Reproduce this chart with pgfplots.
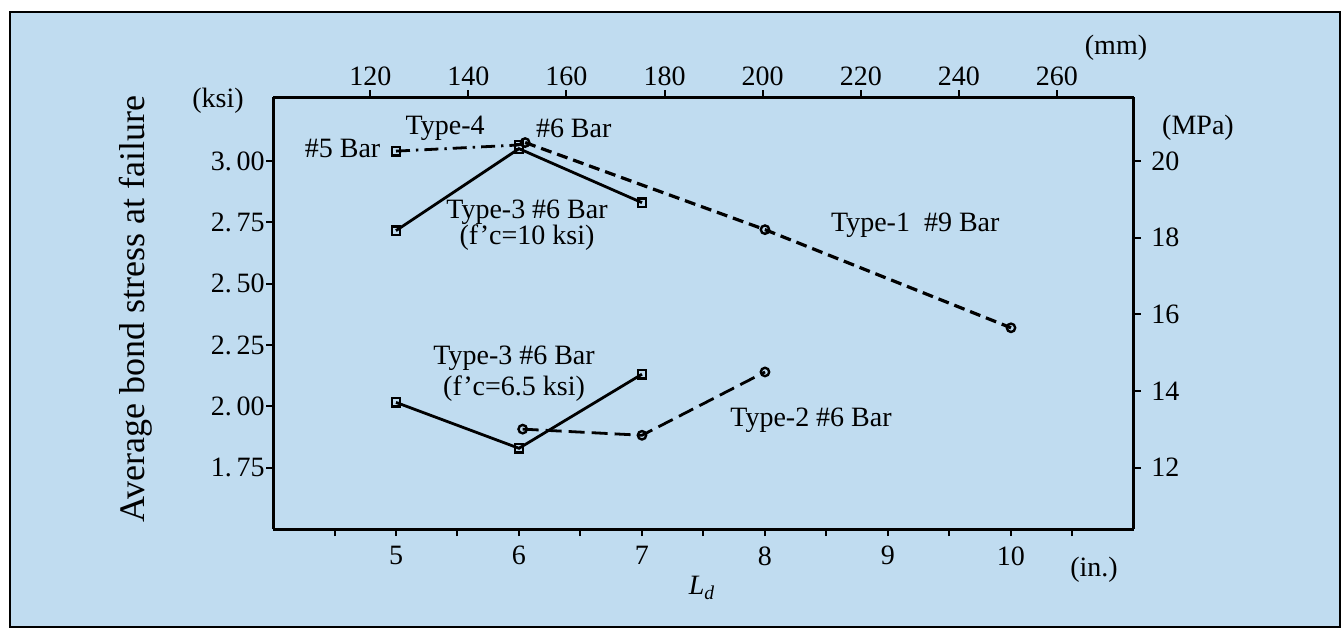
\documentclass[border=0pt]{standalone}
\usepackage{fontspec}
\setmainfont{Liberation Serif}
\usepackage{pgfplots}
\pgfplotsset{compat=1.18}
\definecolor{bg}{RGB}{192,220,240}
\pgfplotsset{myax/.style={
  scale only axis, width=430.5pt, height=216pt,
  at={(136.5pt,50pt)}, anchor=south west,
  xmin=4, xmax=11, ymin=1.5, ymax=3.2606,
  axis line style={line width=1.5pt},
  tick style={black, line width=1pt},
  tick align=outside, major tick length=3.5pt,
  clip=false,
  font=\fontsize{14}{16}\selectfont,
  ticklabel style={font=\fontsize{14}{16}\selectfont},
}}
\begin{document}
\begin{tikzpicture}
\useasboundingbox (0,0) rectangle (670.5pt,314.5pt);
\fill[white] (0,0) rectangle (670.5pt,314.5pt);
\filldraw[fill=bg, draw=black, line width=1.2pt] (5pt,1pt) rectangle (670pt,308.5pt);

% top (mm) axis
\begin{axis}[myax,
  axis x line*=top, axis y line=none,
  xtick={4.791,5.589,6.386,7.184,7.981,8.779,9.577,10.374},
  xticklabels={120,140,160,180,200,220,240,260},
  xticklabel style={inner sep=1pt, yshift=1pt},
]
\addplot[draw=none] coordinates {(5,2)};
\end{axis}

% right (MPa) axis
\begin{axis}[myax,
  axis y line*=right, axis x line=none,
  ytick={1.75,2.0625,2.375,2.6875,3},
  yticklabels={12,14,16,18,20},
  yticklabel style={inner sep=1pt, xshift=4pt},
]
\addplot[draw=none] coordinates {(5,2)};
\end{axis}

% main axis
\begin{axis}[myax,
  axis x line*=bottom, axis y line*=left,
  xtick={4.5,5,5.5,6,6.5,7,7.5,8,8.5,9,9.5,10,10.5},
  xticklabels={,5,,6,,7,,8,,9,,10,},
  xticklabel style={inner sep=1pt, yshift=-4pt},
  ytick={1.75,2,2.25,2.5,2.75,3},
  yticklabels={1.\,75,2.\,00,2.\,25,2.\,50,2.\,75,3.\,00},
  yticklabel style={inner sep=0.5pt},
]
% Type-1 #9 Bar
\addplot[black, line width=1.6pt, dash pattern=on 5.5pt off 3pt,
  mark=o, mark size=2.1pt, mark options={solid, fill=bg, line width=1.2pt}]
  coordinates {(6.05,3.075) (8,2.72) (10,2.32)};
% Type-2 #6 Bar
\addplot[black, line width=1.4pt, dash pattern=on 8pt off 3.5pt,
  mark=o, mark size=2.1pt, mark options={solid, fill=bg, line width=1.2pt}]
  coordinates {(6.03,1.907) (7,1.882) (8,2.14)};
% Type-4
\addplot[black, line width=1.4pt, dash pattern=on 7pt off 3pt on 1.2pt off 3pt,
  mark=square, mark size=2.1pt, mark options={solid, fill=bg, line width=1.2pt}]
  coordinates {(5,3.04) (6,3.065)};
% Type-3 f'c=10 ksi
\addplot[black, line width=1.4pt,
  mark=square, mark size=2.1pt, mark options={solid, fill=bg, line width=1.2pt}]
  coordinates {(5,2.716) (6,3.05) (7,2.83)};
% Type-3 f'c=6.5 ksi
\addplot[black, line width=1.4pt,
  mark=square, mark size=2.1pt, mark options={solid, fill=bg, line width=1.2pt}]
  coordinates {(5,2.016) (6,1.829) (7,2.131)};

\node[anchor=east] at (axis cs:4.93,3.052) {\#5 Bar};
\node at (axis cs:5.40,3.133) {Type-4};
\node at (axis cs:6.445,3.133) {\#6 Bar};
\node[align=center, font=\fontsize{14}{13}\selectfont] at (axis cs:6.065,2.739) {Type-3 \#6 Bar\\(f'c=10 ksi)};
\node at (axis cs:9.222,2.739) {Type-1\ \ \#9 Bar};
\node[align=center, font=\fontsize{14}{15.5}\selectfont] at (axis cs:5.96,2.133) {Type-3 \#6 Bar\\(f'c=6.5 ksi)};
\node at (axis cs:8.374,1.945) {Type-2 \#6 Bar};
\end{axis}

\begin{scope}[font=\fontsize{14}{16}\selectfont]
\node at (109pt,264pt) {(ksi)};
\node at (599pt,250.5pt) {(MPa)};
\node at (558pt,290.5pt) {(mm)};
\node at (547pt,29.5pt) {(in.)};
\node at (351pt,20.5pt) {\textit{L}\textsubscript{\textit{d}}};
\end{scope}
\node[rotate=90, font=\fontsize{18}{20}\selectfont] at (68pt,160pt) {Average bond stress at failure};
\end{tikzpicture}
\end{document}
